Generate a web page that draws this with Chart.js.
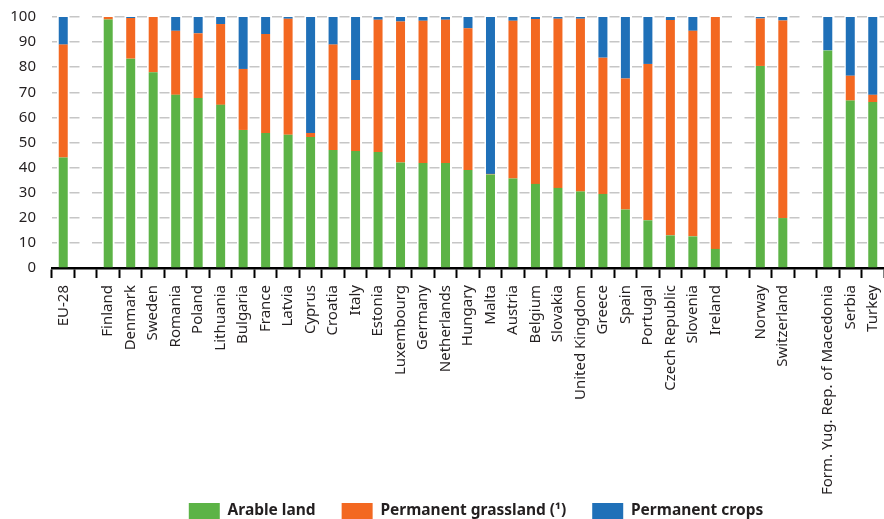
<!DOCTYPE html>
<html>
<head>
<meta charset="utf-8">
<script src="https://cdn.jsdelivr.net/npm/chart.js@4"></script>
<style>
  html, body { margin: 0; padding: 0; background: #ffffff; }
  #wrap { width: 884px; height: 519px; }
</style>
</head>
<body>
<div id="wrap"><canvas id="grafico"></canvas></div>
<script>
// categorias ('' = espaço vazio entre grupos)
const paises = ["EU-28", "", "Finland", "Denmark", "Sweden", "Romania", "Poland", "Lithuania", "Bulgaria",
    "France", "Latvia", "Cyprus", "Croatia", "Italy", "Estonia", "Luxembourg", "Germany", "Netherlands",
    "Hungary", "Malta", "Austria", "Belgium", "Slovakia", "United Kingdom", "Greece", "Spain", "Portugal",
    "Czech Republic", "Slovenia", "Ireland", "", "Norway", "Switzerland", "",
    "Form. Yug. Rep. of Macedonia", "Serbia", "Turkey"]

const terraAravel = [44, null, 99, 83.4, 78, 69, 67.7, 65, 55, 53.8, 53.1, 52.2, 47, 46.6, 46.2, 42, 41.8, 41.8,
    39, 37.3, 35.7, 33.5, 31.9, 30.5, 29.5, 23.3, 19, 13, 12.6, 7.6, null, 80.5, 19.9, null,
    86.7, 66.7, 66.1]

const pastagem = [45, null, 1, 16.2, 22, 25.5, 25.8, 32.2, 24.3, 39.4, 46.2, 1.6, 42, 28.3, 52.7, 56.2, 56.7, 57.1,
    56.5, 0.2, 62.8, 65.7, 67.4, 68.8, 54.3, 52.2, 62.3, 85.8, 81.9, 92.4, null, 18.9, 78.7, null,
    0, 9.9, 2.9]

const culturasPermanentes = [11, null, 0, 0.4, 0, 5.5, 6.5, 2.8, 20.7, 6.8, 0.7, 46.2, 11, 25.1, 1.1, 1.8, 1.5, 1.1,
    4.5, 62.5, 1.5, 0.8, 0.7, 0.7, 16.2, 24.5, 18.7, 1.2, 5.5, 0, null, 0.6, 1.4, null,
    13.3, 23.4, 31]

const passoY = 10

const fonte = "'Noto Sans', sans-serif"
const corTexto = '#231f20'

// empurra a legenda um pouco para a direita, como no original
const moverLegenda = {
    id: 'moverLegenda',
    afterLayout(chart) {
        chart.legend.left += 8
        chart.legend.right += 8
    }
}

const grafico = document.getElementById("grafico")

new Chart(grafico, {
    type: 'bar',
    data: {
        labels: paises,
        datasets: [
            {
                label: "Arable land",
                data: terraAravel,
                backgroundColor: '#5cb346',
                barPercentage: 0.4,
                categoryPercentage: 1
            },
            {
                label: "Permanent grassland (\u00b9)",
                data: pastagem,
                backgroundColor: '#f36821',
                barPercentage: 0.4,
                categoryPercentage: 1
            },
            {
                label: "Permanent crops",
                data: culturasPermanentes,
                backgroundColor: '#1f70b8',
                barPercentage: 0.4,
                categoryPercentage: 1
            }
        ]
    },
    plugins: [moverLegenda],
    options: {
        responsive: true,
        maintainAspectRatio: false,
        animation: false,
        layout: {
            padding: { top: 17, right: 0, bottom: -10, left: 0 }
        },
        plugins: {
            tooltip: { enabled: false },
            legend: {
                position: 'bottom',
                fullSize: false,
                labels: {
                    color: corTexto,
                    boxWidth: 31,
                    boxHeight: 16,
                    padding: 26,
                    font: { family: fonte, size: 15.5, weight: 'bold' }
                }
            }
        },
        scales: {
            x: {
                stacked: true,
                afterFit: (escala) => {
                    escala.height = 209
                    escala.paddingLeft = 0
                    escala.paddingRight = 0
                    // não cortar os rótulos compridos
                    escala._computeLabelArea = () => undefined
                },
                border: { display: true, color: '#000000', width: 2.5 },
                grid: {
                    offset: true,
                    drawOnChartArea: false,
                    drawTicks: true,
                    tickLength: 10,
                    tickWidth: 2,
                    tickColor: '#000000'
                },
                ticks: {
                    autoSkip: false,
                    minRotation: 90,
                    maxRotation: 90,
                    padding: 7,
                    color: corTexto,
                    font: { family: fonte, size: 15 }
                }
            },
            y: {
                stacked: true,
                min: 0,
                max: 100,
                afterFit: (escala) => {
                    escala.width = 52
                    escala.paddingTop = 0
                    escala.paddingBottom = 0
                },
                border: { display: false, dash: [10, 12.5], dashOffset: 5 },
                grid: {
                    display: true,
                    drawOnChartArea: true,
                    drawTicks: false,
                    color: '#c6c6c6',
                    lineWidth: 1.6
                },
                ticks: {
                    stepSize: passoY,
                    padding: 16,
                    color: corTexto,
                    font: { family: fonte, size: 15 }
                }
            }
        }
    }
});
</script>
</body>
</html>
